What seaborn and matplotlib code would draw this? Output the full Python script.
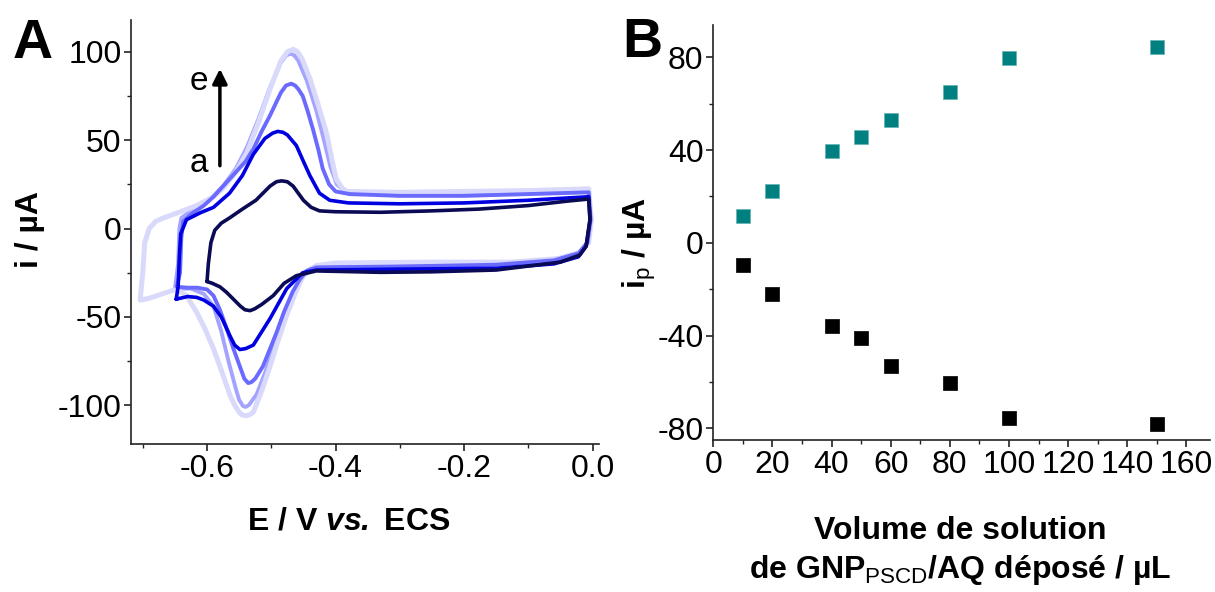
import numpy as np
import pandas as pd
import matplotlib
matplotlib.use("Agg")
import matplotlib.pyplot as plt
from matplotlib.ticker import MultipleLocator
import seaborn as sns

# ---- panel A : cyclic voltammograms a..e (E / V, i / uA)
E_a = [-0.600, -0.598, -0.594, -0.588, -0.578, -0.565, -0.545, -0.524, -0.502, -0.492,
       -0.484, -0.475, -0.466, -0.450, -0.438, -0.425, -0.400, -0.330, -0.250, -0.177,
       -0.100, -0.040, -0.006, -0.004, -0.010, -0.020, -0.050, -0.150, -0.250, -0.330,
       -0.430, -0.461, -0.480, -0.497, -0.515, -0.526, -0.533, -0.541, -0.548, -0.559,
       -0.570, -0.580, -0.592, -0.600]
i_a = [-30, -20, -8, -1, 3, 6, 11, 16, 24, 26.5,
       27, 26.5, 24, 16, 12, 10, 9.5, 9.2, 10, 11,
       13, 15.5, 16.7, 5, -10, -15, -19, -23.5, -24.5, -24.8,
       -24, -26.7, -31, -38, -43, -45.5, -46.5, -46, -44, -40,
       -36, -33, -31, -30]

E_b = [-0.648, -0.645, -0.643, -0.641, -0.632, -0.610, -0.590, -0.565, -0.545, -0.528,
       -0.510, -0.498, -0.490, -0.482, -0.475, -0.461, -0.450, -0.440, -0.425, -0.409,
       -0.380, -0.300, -0.200, -0.100, -0.006, -0.004, -0.010, -0.022, -0.060, -0.150,
       -0.300, -0.430, -0.451, -0.476, -0.502, -0.528, -0.540, -0.549, -0.557, -0.564,
       -0.578, -0.590, -0.605, -0.616, -0.630, -0.648]
i_b = [-40, -33, -15, -3, 5, 9, 12, 20, 30, 42,
       51, 54, 55, 54.5, 53, 47, 38, 30, 20, 16,
       14.5, 14, 14.5, 16, 18, 5, -10, -16, -20, -22.5,
       -23, -23.5, -25, -34, -51, -66, -68, -68.5, -66, -61,
       -50, -44, -40.5, -39, -38.5, -40]

E_c = [-0.647, -0.642, -0.640, -0.637, -0.625, -0.605, -0.590, -0.565, -0.540, -0.528,
       -0.515, -0.502, -0.485, -0.477, -0.469, -0.463, -0.458, -0.451, -0.443, -0.435,
       -0.427, -0.420, -0.410, -0.400, -0.378, -0.300, -0.200, -0.100, -0.006, -0.003,
       -0.008, -0.022, -0.060, -0.150, -0.300, -0.430, -0.445, -0.456, -0.467, -0.480,
       -0.492, -0.503, -0.513, -0.525, -0.531, -0.536, -0.542, -0.547, -0.559, -0.570,
       -0.580, -0.590, -0.600, -0.615, -0.630, -0.647]
i_c = [-33, -25, -5, 4, 8, 13, 18, 28, 38, 45,
       55, 64, 77, 81, 82, 81, 79, 75, 66, 56,
       45, 34, 25, 21, 19.5, 18.5, 18.5, 19.5, 20.5, 5,
       -8, -14, -18, -20.5, -21.5, -22, -24, -29, -36, -47,
       -59, -69, -78, -85, -87, -87.5, -85, -80, -68, -56,
       -46, -38, -34.5, -33.5, -33.5, -33]

E_d = [-0.650, -0.645, -0.643, -0.640, -0.625, -0.600, -0.575, -0.555, -0.538, -0.520,
       -0.502, -0.485, -0.477, -0.470, -0.464, -0.458, -0.445, -0.430, -0.418, -0.408,
       -0.398, -0.385, -0.330, -0.200, -0.100, -0.006, -0.003, -0.008, -0.022, -0.060,
       -0.150, -0.300, -0.430, -0.445, -0.458, -0.471, -0.484, -0.497, -0.510, -0.523,
       -0.535, -0.540, -0.544, -0.550, -0.555, -0.566, -0.578, -0.590, -0.605, -0.625,
       -0.650]
i_d = [-34, -20, 0, 6, 10, 15, 24, 34, 46, 62,
       80, 94, 98, 99, 98, 95, 84, 67, 50, 35,
       25, 21, 20, 20, 20.5, 21.5, 5, -8, -14, -17.5,
       -19.5, -20.5, -21, -24, -32, -44, -56, -68, -82, -94,
       -100, -101, -100.5, -97, -91, -76, -58, -44, -37, -34,
       -34]

E_e = [-0.704, -0.700, -0.697, -0.690, -0.680, -0.668, -0.645, -0.616, -0.590, -0.575,
       -0.555, -0.538, -0.520, -0.502, -0.485, -0.475, -0.466, -0.459, -0.452, -0.440,
       -0.427, -0.414, -0.405, -0.399, -0.390, -0.383, -0.300, -0.200, -0.100, -0.006,
       -0.002, -0.006, -0.020, -0.053, -0.125, -0.250, -0.400, -0.430, -0.451, -0.463,
       -0.476, -0.489, -0.502, -0.515, -0.528, -0.534, -0.540, -0.546, -0.550, -0.557,
       -0.564, -0.577, -0.590, -0.603, -0.616, -0.632, -0.647, -0.670, -0.690, -0.704]
i_e = [-40, -25, -8, 0, 4, 6, 9, 13, 18, 23,
       32, 43, 60, 79, 95, 100, 101.5, 100, 96, 85,
       70, 54, 38, 28, 23, 21, 20.5, 21, 21.5, 22.5,
       5, -8, -13.5, -17, -19, -19, -19.5, -21, -27, -37,
       -49, -63, -78, -92, -104, -105.5, -106, -105.5, -104, -100,
       -94.7, -81, -68, -57, -47.5, -38, -34.3, -37, -39.5, -40.5]

cv_colors = {"a": "#0a0a55", "b": "#0000e0", "c": "#6a6aff", "d": "#a4a4ff", "e": "#d9d9fc"}

# ---- panel B : peak currents vs deposited volume
volume = [10, 20, 40, 50, 60, 80, 100, 150]
ip_ox = [11.5, 22.5, 39.5, 45.5, 53, 65, 79.5, 84.5]
ip_red = [-9.5, -22, -36, -41, -53, -60.5, -75.5, -78]

sns.set_style("ticks")
plt.rcParams["font.family"] = ["Liberation Sans", "DejaVu Sans"]
plt.rcParams["axes.unicode_minus"] = False
plt.rcParams["text.color"] = "black"
plt.rcParams["axes.labelcolor"] = "black"
plt.rcParams["mathtext.fontset"] = "custom"
plt.rcParams["mathtext.rm"] = "Liberation Sans"
plt.rcParams["mathtext.it"] = "Liberation Sans:italic"
plt.rcParams["mathtext.bf"] = "Liberation Sans:bold"
plt.rcParams["mathtext.bfit"] = "Liberation Sans:italic:bold"

fig = plt.figure(figsize=(12.15, 5.92), dpi=100)
axA = fig.add_axes([0.108, 0.25, 0.385, 0.716])
axB = fig.add_axes([0.587, 0.257, 0.409, 0.701])

curves = [("d", E_d, i_d, 2.8), ("e", E_e, i_e, 3.6), ("c", E_c, i_c, 2.8),
          ("b", E_b, i_b, 2.6), ("a", E_a, i_a, 2.6)]
for name, E, I, lw in curves:
    df = pd.DataFrame({"E": E, "i": I})
    sns.lineplot(data=df, x="E", y="i", sort=False, estimator=None,
                 color=cv_colors[name], lw=lw, ax=axA)

axA.set_xlim(-0.718, 0.01)
axA.set_ylim(-122, 118)
axA.xaxis.set_minor_locator(MultipleLocator(0.1))
axA.yaxis.set_minor_locator(MultipleLocator(25))
axA.set_xticks([-0.6, -0.4, -0.2, 0.0])
axA.set_xticklabels(["-0.6", "-0.4", "-0.2", "0.0"])
axA.set_yticks([-100, -50, 0, 50, 100])
axA.set_yticklabels(["-100", "-50", "0", "50", "100"])
axA.set_xlabel(r"E / V $\mathbfit{vs.}\ $ECS", fontsize=23, fontweight="bold")
axA.set_ylabel("i / µA", fontsize=23, fontweight="bold")
axA.xaxis.set_label_coords(0.464, -0.148)
axA.yaxis.set_label_coords(-0.184, 0.507)

# arrow a -> e
axA.annotate("", xy=(-0.580, 92), xytext=(-0.580, 34),
             arrowprops=dict(arrowstyle="-|>", color="black", lw=2.5, mutation_scale=22))
axA.text(-0.613, 83, "e", fontsize=24, ha="center", va="center")
axA.text(-0.613, 37, "a", fontsize=24, ha="center", va="center")

sns.scatterplot(x=volume, y=ip_ox, marker="s", s=115, color="#008080",
                edgecolor="#66b3b3", linewidth=0.5, ax=axB)
sns.scatterplot(x=volume, y=ip_red, marker="s", s=115, color="black",
                edgecolor="black", linewidth=0.5, ax=axB)
axB.set_xlim(0, 168)
axB.set_ylim(-85, 94)
axB.xaxis.set_minor_locator(MultipleLocator(10))
axB.yaxis.set_minor_locator(MultipleLocator(20))
axB.set_xticks(range(0, 161, 20))
axB.set_yticks([-80, -40, 0, 40, 80])
axB.set_xlabel("Volume de solution\nde GNP$_{\\mathrm{PSCD}}$/AQ déposé / µL",
               fontsize=23, fontweight="bold", linespacing=1.3)
axB.set_ylabel(r"i$_{\mathrm{p}}$ / µA", fontsize=23, fontweight="bold")
axB.xaxis.set_label_coords(0.497, -0.183)
axB.yaxis.set_label_coords(-0.111, 0.475)

for ax in (axA, axB):
    sns.despine(ax=ax)
    for sp in ("left", "bottom"):
        ax.spines[sp].set_linewidth(1.2)
        ax.spines[sp].set_color("#222222")
    ax.tick_params(which="major", direction="out", length=5, width=1.2,
                   labelsize=23, pad=2, colors="#222222", labelcolor="black")
    ax.tick_params(which="minor", direction="out", length=3, width=1.0, colors="#222222")

fig.text(0.027, 0.925, "A", fontsize=40, fontweight="bold", ha="center", va="center")
fig.text(0.529, 0.928, "B", fontsize=40, fontweight="bold", ha="center", va="center")

fig.savefig("out.png", dpi=100)
